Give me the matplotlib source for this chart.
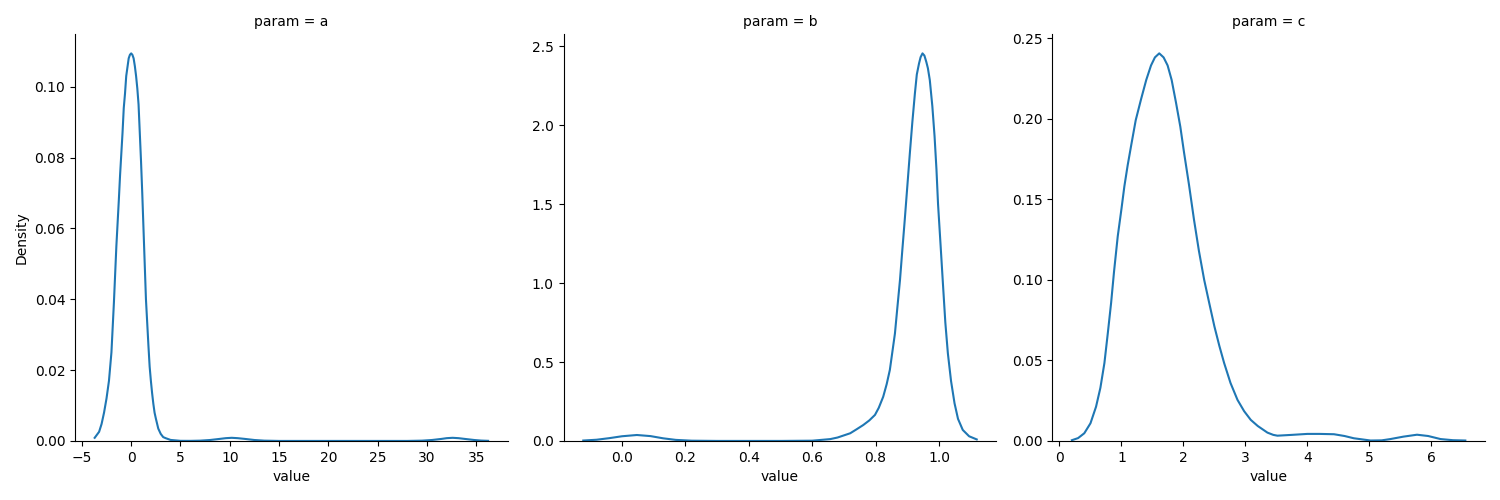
import matplotlib
matplotlib.use("Agg")
import matplotlib.pyplot as plt

# curve points (kde of "value" per param)
params = ["a", "b", "c"]

a_x = [-3.7, -3.25, -3.0, -2.75, -2.5, -2.375, -2.25, -2.125, -2.0, -1.875, -1.75, -1.625,
       -1.5, -1.375, -1.25, -1.125, -1.0, -0.875, -0.75, -0.625, -0.5, -0.375, -0.25, -0.125,
       0.0, 0.125, 0.25, 0.375, 0.5, 0.625, 0.75, 0.875, 1.0, 1.125, 1.25, 1.375, 1.5, 1.625,
       1.75, 1.875, 2.0, 2.125, 2.25, 2.375, 2.5, 2.75, 3.0, 3.25, 3.5, 4.0,
       5.0, 6.0, 7.0, 8.0, 9.0, 9.6, 10.2, 10.8, 11.5, 12.5, 13.5, 15.0,
       28.0, 29.5, 30.5, 31.5, 32.0, 32.6, 33.2, 33.8, 34.8, 35.5, 36.2]
a_y = [0.0009, 0.0026, 0.0048, 0.0080, 0.012, 0.0145, 0.017, 0.021, 0.025, 0.032, 0.039, 0.047,
       0.055, 0.0615, 0.068, 0.075, 0.081, 0.087, 0.094, 0.098, 0.103, 0.1055, 0.108, 0.109,
       0.1094, 0.109, 0.108, 0.1058, 0.103, 0.0995, 0.095, 0.087, 0.079, 0.070, 0.060, 0.050,
       0.040, 0.0335, 0.027, 0.021, 0.017, 0.0135, 0.0105, 0.008, 0.0064, 0.0035, 0.0020,
       0.0011, 0.0008, 0.0003,
       0.00005, 0.00004, 0.0001, 0.00028, 0.0006, 0.0008, 0.0009, 0.0008, 0.0006, 0.00028,
       0.0001, 0.00002,
       0.00002, 0.0001, 0.00028, 0.0006, 0.0008, 0.0009, 0.0008, 0.0006, 0.00028, 0.00012,
       0.00005]

b_x = [-0.122, -0.08, -0.04, 0.0, 0.047, 0.09, 0.13, 0.17, 0.22, 0.3, 0.5, 0.6,
       0.657, 0.68, 0.72, 0.74, 0.761, 0.78, 0.798, 0.81, 0.824, 0.835, 0.845, 0.861, 0.868,
       0.877, 0.884, 0.892, 0.900, 0.908, 0.916, 0.924, 0.93, 0.937, 0.942, 0.948, 0.954,
       0.96, 0.965, 0.971, 0.979, 0.986, 0.992, 0.997, 1.005, 1.013, 1.02, 1.028, 1.038,
       1.049, 1.06, 1.075, 1.095, 1.119]
b_y = [0.003, 0.008, 0.018, 0.030, 0.038, 0.031, 0.017, 0.007, 0.002, 0.0005, 0.0005, 0.002,
       0.012, 0.022, 0.049, 0.074, 0.101, 0.13, 0.165, 0.21, 0.28, 0.36, 0.45, 0.68, 0.83,
       1.02, 1.2, 1.40, 1.61, 1.82, 2.02, 2.20, 2.32, 2.39, 2.43, 2.454, 2.44,
       2.40, 2.36, 2.285, 2.12, 1.93, 1.72, 1.50, 1.24, 0.977, 0.75, 0.555, 0.38,
       0.239, 0.14, 0.070, 0.030, 0.010]

c_x = [0.2, 0.3, 0.4, 0.5, 0.59, 0.66, 0.725, 0.78, 0.833, 0.88,
       0.94, 1.0, 1.047, 1.1, 1.155, 1.23, 1.316, 1.40, 1.477, 1.54,
       1.61, 1.68, 1.745, 1.81, 1.88, 1.95, 2.01, 2.09, 2.17, 2.25,
       2.335, 2.42, 2.5, 2.58, 2.657, 2.76, 2.873, 2.98, 3.087, 3.2,
       3.356, 3.45, 3.517, 3.75, 4.0, 4.2, 4.43, 4.6, 4.75, 5.02,
       5.2, 5.34, 5.55, 5.77, 5.95, 6.15, 6.35, 6.55]
c_y = [0.0005, 0.0018, 0.0048, 0.011, 0.0213, 0.033, 0.0484, 0.067, 0.0857, 0.105,
       0.127, 0.144, 0.158, 0.171, 0.183, 0.199, 0.212, 0.224, 0.233, 0.238,
       0.2405, 0.238, 0.233, 0.224, 0.210, 0.195, 0.179, 0.159, 0.1375, 0.118,
       0.100, 0.085, 0.0711, 0.059, 0.0484, 0.036, 0.0255, 0.0185, 0.0131, 0.0093,
       0.0052, 0.0038, 0.0033, 0.0038, 0.0044, 0.0044, 0.0042, 0.0031, 0.0017, 0.0003,
       0.0004, 0.0012, 0.0027, 0.0039, 0.0031, 0.0012, 0.0005, 0.0003]

curves = {"a": (a_x, a_y), "b": (b_x, b_y), "c": (c_x, c_y)}

fig, axes = plt.subplots(1, 3, figsize=(15, 5), dpi=100)
plt.subplots_adjust(left=0.05, right=0.99, bottom=0.118, top=0.932, wspace=0.129)

for ax, p in zip(axes, params):
    xs, ys = curves[p]
    ax.plot(xs, ys, color="#1f77b4", linewidth=1.5)
    ax.set_ylim(bottom=0)
    ax.set_title("param = " + p, fontsize=10)
    ax.set_xlabel("value")
    ax.spines["top"].set_visible(False)
    ax.spines["right"].set_visible(False)

axes[0].set_ylabel("Density")

fig.savefig("out.png")
